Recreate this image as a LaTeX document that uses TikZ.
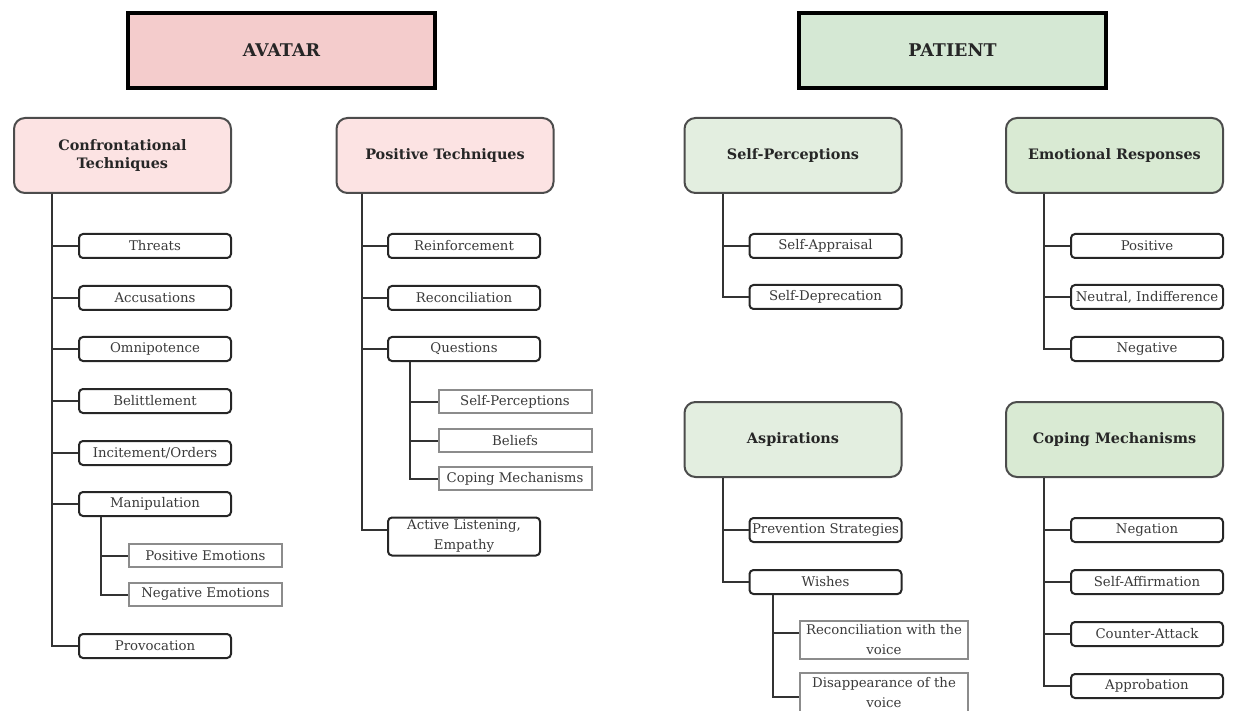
\documentclass[tikz,border=0pt]{standalone}
\usepackage{fontspec}
\setmainfont{DejaVu Serif}
\usetikzlibrary{calc}
\definecolor{avfill}{HTML}{F4CCCC}
\definecolor{avlight}{HTML}{FCE3E3}
\definecolor{pafill}{HTML}{D5E8D4}
\definecolor{palight}{HTML}{E3EEE0}
\definecolor{pamid}{HTML}{D9EAD3}
\definecolor{txt}{HTML}{3A3A3A}
\begin{document}
\begin{tikzpicture}[x=1pt,y=-1pt,
  hdr/.style={draw=black,line width=3.8pt,minimum width=307pt,minimum height=75pt,
    font=\fontsize{17.5}{20}\selectfont\bfseries,text=black!85},
  cat/.style={draw=black!70,line width=2pt,rounded corners=11pt,minimum width=217pt,
    minimum height=75pt,align=center,font=\fontsize{14.4}{18}\selectfont\bfseries,text=black!85},
  item/.style={draw=black!85,line width=2pt,rounded corners=4pt,minimum width=152pt,
    minimum height=24pt,inner sep=0pt,align=center,font=\fontsize{13.3}{20}\selectfont,text=txt,fill=white},
  sub/.style={draw=black!45,line width=2pt,minimum width=153pt,minimum height=23pt,
    inner sep=0pt,align=center,font=\fontsize{13.3}{20}\selectfont,text=txt,fill=white},
  conn/.style={draw=black!80,line width=2pt}]
\useasboundingbox (0,0) rectangle (1237,711);
% headers
\node[hdr,fill=avfill] (avatar) at (281.5,50.5) {AVATAR};
\node[hdr,fill=pafill] (patient) at (952.5,50.5) {PATIENT};
% categories
\node[cat,fill=avlight] (conf) at (122.5,155.5) {Confrontational\\Techniques};
\node[cat,fill=avlight] (pos) at (445,155.5) {Positive Techniques};
\node[cat,fill=palight] (sp) at (793,155.5) {Self-Perceptions};
\node[cat,fill=pamid] (er) at (1114.5,155.5) {Emotional Responses};
\node[cat,fill=palight] (asp) at (793,439.5) {Aspirations};
\node[cat,fill=pamid] (cm) at (1114.5,439.5) {Coping Mechanisms};
% confrontational items
\node[item] (c1) at (155,246) {Threats};
\node[item] (c2) at (155,298) {Accusations};
\node[item] (c3) at (155,349) {Omnipotence};
\node[item] (c4) at (155,401) {Belittlement};
\node[item] (c5) at (155,453) {Incitement/Orders};
\node[item] (c6) at (155,504) {Manipulation};
\node[item] (c7) at (155,646) {Provocation};
\node[sub] (m1) at (205.5,555.5) {Positive Emotions};
\node[sub] (m2) at (205.5,594.5) {Negative Emotions};
% positive items
\node[item] (p1) at (464,246) {Reinforcement};
\node[item] (p2) at (464,298) {Reconciliation};
\node[item] (p3) at (464,349) {Questions};
\node[item,minimum height=38pt] (p4) at (464,536.5) {Active Listening,\\Empathy};
\node[sub] (q1) at (515,401.5) {Self-Perceptions};
\node[sub] (q2) at (515,440.5) {Beliefs};
\node[sub] (q3) at (515,478.5) {Coping Mechanisms};
% self-perceptions items
\node[item] (s1) at (825.5,246) {Self-Appraisal};
\node[item] (s2) at (825.5,297) {Self-Deprecation};
% emotional responses items
\node[item] (e1) at (1147,246) {Positive};
\node[item] (e2) at (1147,297) {Neutral, Indifference};
\node[item] (e3) at (1147,349) {Negative};
% aspirations items
\node[item] (a1) at (825.5,530) {Prevention Strategies};
\node[item] (a2) at (825.5,582) {Wishes};
\node[sub,minimum width=168pt,minimum height=38pt] (w1) at (884,640) {Reconciliation with the\\voice};
\node[sub,minimum width=168pt,minimum height=40pt] (w2) at (884,693) {Disappearance of the\\voice};
% coping items
\node[item] (k1) at (1147,530) {Negation};
\node[item] (k2) at (1147,582) {Self-Affirmation};
\node[item] (k3) at (1147,634) {Counter-Attack};
\node[item] (k4) at (1147,686) {Approbation};
% connectors
\foreach \n in {c1,c2,c3,c4,c5,c6,c7}{\draw[conn] (conf.south west) ++(39,0) |- (\n.west);}
\foreach \n in {m1,m2}{\draw[conn] (c6.south west) ++(23,0) |- (\n.west);}
\foreach \n in {p1,p2,p3}{\draw[conn] (pos.south west) ++(26,0) |- (\n.west);}
\draw[conn] (pos.south west) ++(26,0) |- ([yshift=7pt]p4.west);
\foreach \n in {q1,q2,q3}{\draw[conn] (p3.south west) ++(23,0) |- (\n.west);}
\foreach \n in {s1,s2}{\draw[conn] (sp.south west) ++(39,0) |- (\n.west);}
\foreach \n in {e1,e2,e3}{\draw[conn] (er.south west) ++(39,0) |- (\n.west);}
\foreach \n in {a1,a2}{\draw[conn] (asp.south west) ++(39,0) |- (\n.west);}
\draw[conn] (a2.south west) ++(24,0) |- ([yshift=7pt]w1.west);
\draw[conn] (a2.south west) ++(24,0) |- ([yshift=-4pt]w2.west);
\foreach \n in {k1,k2,k3,k4}{\draw[conn] (cm.south west) ++(39,0) |- (\n.west);}
\end{tikzpicture}
\end{document}
